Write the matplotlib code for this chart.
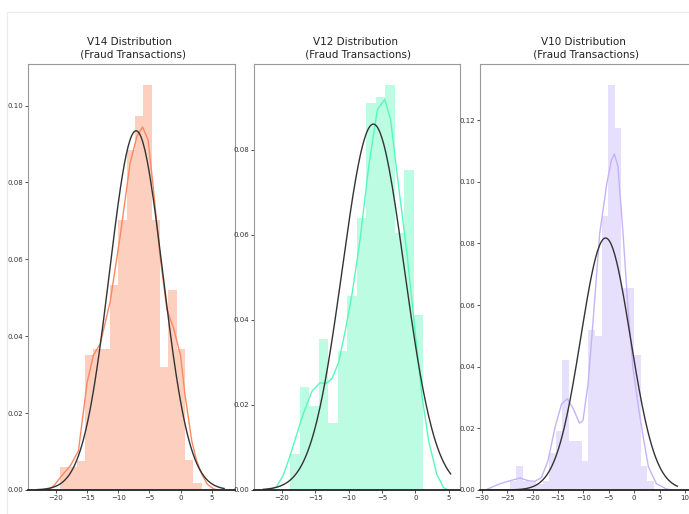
import numpy as np
import matplotlib
matplotlib.use('Agg')
import matplotlib.pyplot as plt
from matplotlib.patches import Rectangle

plt.rcParams['font.family'] = ['DejaVu Sans']

# ---- data ----
titles = ['V14 Distribution \n (Fraud Transactions)',
          'V12 Distribution \n (Fraud Transactions)',
          'V10 Distribution \n (Fraud Transactions)']
colors = ['#FB8861', '#56F9BB', '#C5B3F9']

# histogram (density) heights, bins of equal width between first/last edge
v14_edges = (-19.34, 3.40)
v14_hist = [0.0061, 0.0061, 0.0076, 0.0352, 0.0367, 0.0367, 0.0534, 0.0703, 0.0885,
            0.0974, 0.1054, 0.0703, 0.0321, 0.0519, 0.0367, 0.0078, 0.0018]
v12_edges = (-18.79, 1.20)
v12_hist = [0.0085, 0.0243, 0.0198, 0.0355, 0.0157, 0.0326, 0.0457, 0.0640, 0.0910,
            0.0924, 0.0951, 0.0605, 0.0753, 0.0412]
v10_edges = (-24.52, 3.90)
v10_hist = [0.0030, 0.0079, 0.0030, 0.0025, 0.0020, 0.0030, 0.0120, 0.0190, 0.0422,
            0.0158, 0.0158, 0.0093, 0.0518, 0.0498, 0.0890, 0.1314, 0.1173, 0.0656,
            0.0656, 0.0439, 0.0079, 0.0030]

# kde curves (x, density)
v14_kde_x = [-21.2, -20.3, -19.3, -17.7, -16.4, -15.0, -14.0, -12.9, -11.3, -9.7, -8.1, -7.0,
             -6.1, -5.2, -4.4, -3.3, -2.2, -1.1, 0.0, 0.7, 1.8, 2.6, 3.4, 4.3, 5.3, 6.0]
v14_kde_y = [0.0, 0.0012, 0.0033, 0.0063, 0.0102, 0.028, 0.035, 0.038, 0.049, 0.066, 0.085, 0.092,
             0.0944, 0.091, 0.079, 0.061, 0.047, 0.042, 0.035, 0.025, 0.0128, 0.0075, 0.0042,
             0.0015, 0.0003, 0.0]
v12_kde_x = [-21.8, -20.8, -19.8, -18.8, -17.8, -16.8, -15.5, -14.3, -13.4, -12.5, -11.5, -10.5,
             -9.5, -8.3, -7.0, -5.7, -4.6, -3.7, -2.5, -1.25, 0.0, 1.0, 2.0, 3.2, 4.2, 4.9]
v12_kde_y = [0.0, 0.0008, 0.0035, 0.0080, 0.0130, 0.0180, 0.0232, 0.0252, 0.0250, 0.0262, 0.0300,
             0.0375, 0.046, 0.0587, 0.076, 0.0893, 0.0918, 0.0869, 0.0712, 0.0555, 0.0367, 0.022,
             0.0115, 0.0038, 0.0006, 0.0]
v10_kde_x = [-29.1, -26.5, -24.5, -22.5, -20.9, -19.6, -18.3, -17.0, -15.6, -14.3, -13.2, -12.0,
             -10.8, -10.1, -9.1, -8.1, -6.8, -5.4, -4.5, -3.9, -3.2, -2.2, -1.2, -0.2, 1.0, 1.8,
             2.8, 4.4, 6.4, 7.5]
v10_kde_y = [0.0002, 0.002, 0.003, 0.0039, 0.003, 0.0028, 0.004, 0.0095, 0.0204, 0.028, 0.0296,
             0.0263, 0.0217, 0.0225, 0.0344, 0.055, 0.0832, 0.0994, 0.107, 0.109, 0.1049, 0.0832,
             0.0583, 0.039, 0.025, 0.017, 0.0075, 0.002, 0.0003, 0.0]

# fitted normal: mean, std, support
v14_fit = (-7.14, 4.27, -23.1, 7.0)
v12_fit = (-6.3, 4.64, -22.8, 5.3)
v10_fit = (-5.64, 4.88, -28.8, 8.5)

xlims = [(-24.5, 8.75), (-24.2, 6.7), (-30.4, 11.0)]
ylims = [(0, 0.1108), (0, 0.1001), (0, 0.1382)]
xticks = [[-20, -15, -10, -5, 0, 5], [-20, -15, -10, -5, 0, 5], [-30, -25, -20, -15, -10, -5, 0, 5, 10]]
yticks = [np.arange(0, 0.101, 0.02), np.arange(0, 0.081, 0.02), np.arange(0, 0.121, 0.02)]

hists = [(v14_edges, v14_hist), (v12_edges, v12_hist), (v10_edges, v10_hist)]
kdes = [(v14_kde_x, v14_kde_y), (v12_kde_x, v12_kde_y), (v10_kde_x, v10_kde_y)]
fits = [v14_fit, v12_fit, v10_fit]

fig = plt.figure(figsize=(6.89, 5.14), dpi=100)
fig.patches.append(Rectangle((7/689, -0.1), 1.2, (514 - 12)/514 + 0.1, transform=fig.transFigure,
                             fill=False, edgecolor='#ebebeb', linewidth=0.8))

lefts = [28/689, 254/689, 480/689]
widths = [207/689, 206/689, 210/689]
axes = [fig.add_axes([l, 24/514, w, 426/514]) for l, w in zip(lefts, widths)]

for i, ax in enumerate(axes):
    (lo, hi), heights = hists[i]
    edges = np.linspace(lo, hi, len(heights) + 1)
    ax.bar(edges[:-1], heights, width=np.diff(edges), align='edge', color=colors[i],
           alpha=0.4, linewidth=0)
    ax.plot(kdes[i][0], kdes[i][1], color=colors[i], lw=1.0)

    mu, sd, a, b = fits[i]
    xs = np.linspace(a, b, 200)
    ax.plot(xs, np.exp(-0.5 * ((xs - mu) / sd) ** 2) / (sd * np.sqrt(2 * np.pi)),
            color='#333333', lw=1.0)

    ax.set_xlim(*xlims[i])
    ax.set_ylim(*ylims[i])
    ax.set_xticks(xticks[i])
    ax.set_yticks(yticks[i])
    ax.set_yticklabels(['{:.2f}'.format(t) for t in yticks[i]])
    ax.tick_params(labelsize=5, length=2, width=0.6, pad=1.5, colors='#333333')
    for s in ['top', 'left', 'right']:
        ax.spines[s].set_color('#999999')
        ax.spines[s].set_linewidth(0.8)
    ax.spines['bottom'].set_color('#222222')
    ax.spines['bottom'].set_linewidth(1.3)
    ax.set_title(titles[i], fontsize=7.5, pad=5, color='#222222')

fig.savefig('out.png', dpi=100)
